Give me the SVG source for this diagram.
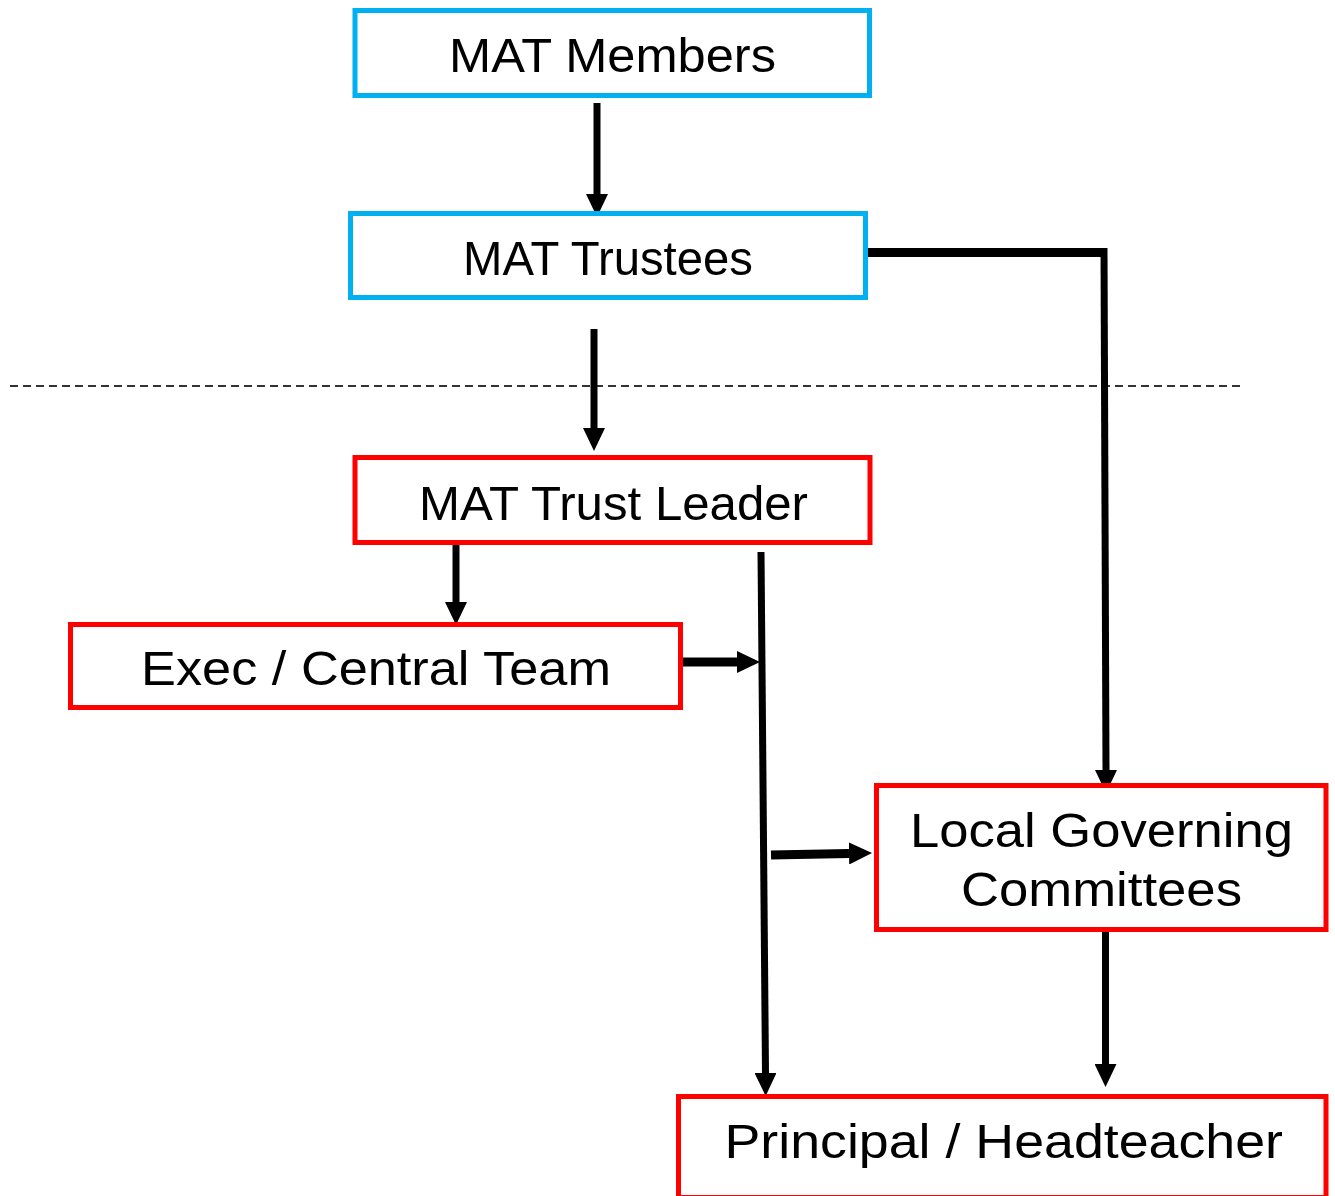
<svg xmlns="http://www.w3.org/2000/svg" width="1335" height="1196" viewBox="0 0 1335 1196">
<style>
.box{fill:#fff;stroke-width:5}
.blue{stroke:#00B0F0}
.red{stroke:#FF0000}
.t{font-family:"Liberation Sans","DejaVu Sans",sans-serif;font-size:49px;fill:#000;text-anchor:start}
.c{fill:none;stroke:#000;stroke-width:7}
.thick{stroke-width:9}
.dash{fill:none;stroke:#333;stroke-width:2;stroke-dasharray:8 5}
</style>
<defs>
<marker id="ah" markerUnits="userSpaceOnUse" viewBox="0 0 23 22" markerWidth="23" markerHeight="22" refX="0" refY="11" orient="auto">
<path d="M0,0 L23,11 L0,22 Z" fill="#000"/>
</marker>
</defs>
<rect width="1335" height="1196" fill="#fff"/>
<line class="dash" x1="10" y1="386" x2="1240" y2="386"/>
<g id="connectors">
<line class="c" x1="597" y1="103" x2="597" y2="194" marker-end="url(#ah)"/>
<line class="c thick" x1="868" y1="252.5" x2="1105" y2="252.5"/>
<path class="c" d="M1104,248 L1106,770" marker-end="url(#ah)"/>
<line class="c" x1="594" y1="329" x2="594" y2="428" marker-end="url(#ah)"/>
<line class="c" x1="456" y1="545" x2="456" y2="602" marker-end="url(#ah)"/>
<line class="c thick" x1="683" y1="662" x2="737" y2="662" marker-end="url(#ah)"/>
<line class="c" x1="761" y1="552" x2="765.5" y2="1073" marker-end="url(#ah)"/>
<line class="c thick" x1="771" y1="855" x2="849" y2="853.5" marker-end="url(#ah)"/>
<line class="c" x1="1105.5" y1="929" x2="1105.5" y2="1064" marker-end="url(#ah)"/>
</g>
<g id="mat-members">
<rect class="box blue" x="355" y="10.5" width="514.5" height="85"/>
<text class="t" x="449" y="72" textLength="327" lengthAdjust="spacingAndGlyphs">MAT Members</text>
</g>
<g id="mat-trustees">
<rect class="box blue" x="350.5" y="213.5" width="515" height="84"/>
<text class="t" x="463" y="275" textLength="290" lengthAdjust="spacingAndGlyphs">MAT Trustees</text>
</g>
<g id="mat-trust-leader">
<rect class="box red" x="355" y="457.5" width="515" height="85"/>
<text class="t" x="419" y="520" textLength="389" lengthAdjust="spacingAndGlyphs">MAT Trust Leader</text>
</g>
<g id="exec-central-team">
<rect class="box red" x="70.5" y="624.5" width="610" height="83"/>
<text class="t" x="141" y="685" textLength="470" lengthAdjust="spacingAndGlyphs">Exec / Central Team</text>
</g>
<g id="local-governing-committees">
<rect class="box red" x="876.5" y="785.5" width="449.5" height="144"/>
<text class="t" x="910" y="847" textLength="383" lengthAdjust="spacingAndGlyphs">Local Governing</text>
<text class="t" x="961" y="906" textLength="281" lengthAdjust="spacingAndGlyphs">Committees</text>
</g>
<g id="principal-headteacher">
<rect class="box red" x="678.5" y="1096.5" width="647.5" height="101"/>
<text class="t" x="724.5" y="1158" textLength="558.5" lengthAdjust="spacingAndGlyphs">Principal / Headteacher</text>
</g>
</svg>
